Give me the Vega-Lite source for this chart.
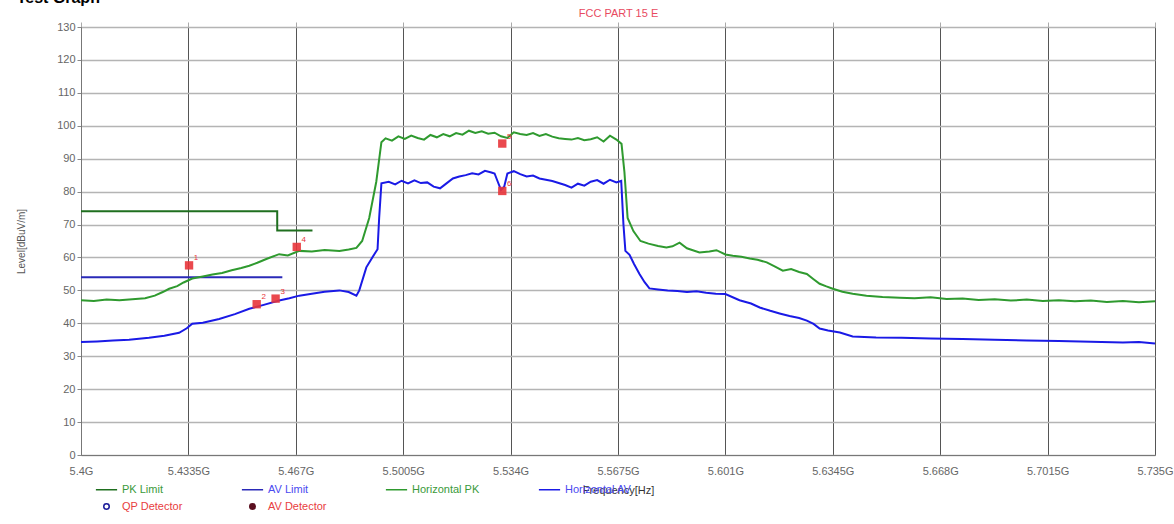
{
  "$schema": "https://vega.github.io/schema/vega-lite/v6.json",
  "width": 1174,
  "height": 524,
  "autosize": {"type": "fit", "contains": "padding"},
  "padding": {"left": 16, "right": 0, "top": -11, "bottom": 29},
  "background": "white",
  "title": {"text": "Test Graph", "anchor": "start", "frame": "bounds", "fontSize": 16, "fontWeight": "bold", "font": "Liberation Sans", "color": "#000000", "offset": 2},
  "config": {"view": {"stroke": "#7a7a7a", "strokeWidth": 1}, "font": "Liberation Sans"},
  "datasets": {
    "curves": [
      {"series": "PK Limit", "freq": 5.4, "level": 74},
      {"series": "PK Limit", "freq": 5.4612, "level": 74},
      {"series": "PK Limit", "freq": 5.46121, "level": 68.2},
      {"series": "PK Limit", "freq": 5.4722, "level": 68.2},
      {"series": "AV Limit", "freq": 5.4, "level": 54},
      {"series": "AV Limit", "freq": 5.4628, "level": 54},
      {"series": "Horizontal PK", "freq": 5.4, "level": 47.0},
      {"series": "Horizontal PK", "freq": 5.404, "level": 46.8},
      {"series": "Horizontal PK", "freq": 5.408, "level": 47.2},
      {"series": "Horizontal PK", "freq": 5.412, "level": 47.0},
      {"series": "Horizontal PK", "freq": 5.416, "level": 47.3},
      {"series": "Horizontal PK", "freq": 5.42, "level": 47.6},
      {"series": "Horizontal PK", "freq": 5.423, "level": 48.4},
      {"series": "Horizontal PK", "freq": 5.4255, "level": 49.5},
      {"series": "Horizontal PK", "freq": 5.4275, "level": 50.5},
      {"series": "Horizontal PK", "freq": 5.43, "level": 51.3},
      {"series": "Horizontal PK", "freq": 5.432, "level": 52.4},
      {"series": "Horizontal PK", "freq": 5.4347, "level": 53.6},
      {"series": "Horizontal PK", "freq": 5.438, "level": 54.2},
      {"series": "Horizontal PK", "freq": 5.441, "level": 54.8},
      {"series": "Horizontal PK", "freq": 5.444, "level": 55.3},
      {"series": "Horizontal PK", "freq": 5.447, "level": 56.1},
      {"series": "Horizontal PK", "freq": 5.45, "level": 56.8},
      {"series": "Horizontal PK", "freq": 5.4525, "level": 57.5},
      {"series": "Horizontal PK", "freq": 5.455, "level": 58.4},
      {"series": "Horizontal PK", "freq": 5.458, "level": 59.6},
      {"series": "Horizontal PK", "freq": 5.4618, "level": 61.0},
      {"series": "Horizontal PK", "freq": 5.4645, "level": 60.6},
      {"series": "Horizontal PK", "freq": 5.4681, "level": 62.0},
      {"series": "Horizontal PK", "freq": 5.472, "level": 61.8},
      {"series": "Horizontal PK", "freq": 5.476, "level": 62.3},
      {"series": "Horizontal PK", "freq": 5.4806, "level": 62.0},
      {"series": "Horizontal PK", "freq": 5.4835, "level": 62.4},
      {"series": "Horizontal PK", "freq": 5.4859, "level": 62.9},
      {"series": "Horizontal PK", "freq": 5.4877, "level": 65.0},
      {"series": "Horizontal PK", "freq": 5.4899, "level": 72.0},
      {"series": "Horizontal PK", "freq": 5.4921, "level": 83.0},
      {"series": "Horizontal PK", "freq": 5.4937, "level": 95.0},
      {"series": "Horizontal PK", "freq": 5.495, "level": 96.2},
      {"series": "Horizontal PK", "freq": 5.497, "level": 95.5},
      {"series": "Horizontal PK", "freq": 5.499, "level": 96.8},
      {"series": "Horizontal PK", "freq": 5.501, "level": 96.0},
      {"series": "Horizontal PK", "freq": 5.503, "level": 97.0},
      {"series": "Horizontal PK", "freq": 5.505, "level": 96.3},
      {"series": "Horizontal PK", "freq": 5.507, "level": 95.8},
      {"series": "Horizontal PK", "freq": 5.509, "level": 97.2},
      {"series": "Horizontal PK", "freq": 5.511, "level": 96.5},
      {"series": "Horizontal PK", "freq": 5.513, "level": 97.5},
      {"series": "Horizontal PK", "freq": 5.515, "level": 96.8},
      {"series": "Horizontal PK", "freq": 5.517, "level": 97.8},
      {"series": "Horizontal PK", "freq": 5.519, "level": 97.3},
      {"series": "Horizontal PK", "freq": 5.521, "level": 98.5},
      {"series": "Horizontal PK", "freq": 5.523, "level": 97.8},
      {"series": "Horizontal PK", "freq": 5.525, "level": 98.3},
      {"series": "Horizontal PK", "freq": 5.527, "level": 97.6},
      {"series": "Horizontal PK", "freq": 5.529, "level": 97.9},
      {"series": "Horizontal PK", "freq": 5.531, "level": 96.8},
      {"series": "Horizontal PK", "freq": 5.533, "level": 96.3},
      {"series": "Horizontal PK", "freq": 5.535, "level": 98.0},
      {"series": "Horizontal PK", "freq": 5.537, "level": 97.5},
      {"series": "Horizontal PK", "freq": 5.539, "level": 97.2},
      {"series": "Horizontal PK", "freq": 5.541, "level": 97.8},
      {"series": "Horizontal PK", "freq": 5.543, "level": 96.9},
      {"series": "Horizontal PK", "freq": 5.545, "level": 97.5},
      {"series": "Horizontal PK", "freq": 5.547, "level": 96.7},
      {"series": "Horizontal PK", "freq": 5.549, "level": 96.2},
      {"series": "Horizontal PK", "freq": 5.551, "level": 96.0},
      {"series": "Horizontal PK", "freq": 5.553, "level": 95.8},
      {"series": "Horizontal PK", "freq": 5.555, "level": 96.3},
      {"series": "Horizontal PK", "freq": 5.557, "level": 95.6},
      {"series": "Horizontal PK", "freq": 5.559, "level": 95.9},
      {"series": "Horizontal PK", "freq": 5.561, "level": 96.5},
      {"series": "Horizontal PK", "freq": 5.563, "level": 95.2},
      {"series": "Horizontal PK", "freq": 5.565, "level": 97.0},
      {"series": "Horizontal PK", "freq": 5.567, "level": 95.8},
      {"series": "Horizontal PK", "freq": 5.5686, "level": 94.5},
      {"series": "Horizontal PK", "freq": 5.5695, "level": 86.0},
      {"series": "Horizontal PK", "freq": 5.5705, "level": 72.0},
      {"series": "Horizontal PK", "freq": 5.5723, "level": 68.0},
      {"series": "Horizontal PK", "freq": 5.5745, "level": 65.0},
      {"series": "Horizontal PK", "freq": 5.577, "level": 64.2},
      {"series": "Horizontal PK", "freq": 5.58, "level": 63.5},
      {"series": "Horizontal PK", "freq": 5.5826, "level": 63.0},
      {"series": "Horizontal PK", "freq": 5.5845, "level": 63.4},
      {"series": "Horizontal PK", "freq": 5.5867, "level": 64.5},
      {"series": "Horizontal PK", "freq": 5.589, "level": 62.8},
      {"series": "Horizontal PK", "freq": 5.5929, "level": 61.5},
      {"series": "Horizontal PK", "freq": 5.596, "level": 61.8},
      {"series": "Horizontal PK", "freq": 5.5982, "level": 62.2},
      {"series": "Horizontal PK", "freq": 5.601, "level": 60.9},
      {"series": "Horizontal PK", "freq": 5.6033, "level": 60.5},
      {"series": "Horizontal PK", "freq": 5.606, "level": 60.2},
      {"series": "Horizontal PK", "freq": 5.6086, "level": 59.7},
      {"series": "Horizontal PK", "freq": 5.611, "level": 59.3},
      {"series": "Horizontal PK", "freq": 5.6139, "level": 58.5},
      {"series": "Horizontal PK", "freq": 5.6165, "level": 57.2},
      {"series": "Horizontal PK", "freq": 5.6189, "level": 56.0},
      {"series": "Horizontal PK", "freq": 5.6215, "level": 56.5},
      {"series": "Horizontal PK", "freq": 5.624, "level": 55.6},
      {"series": "Horizontal PK", "freq": 5.6264, "level": 55.0},
      {"series": "Horizontal PK", "freq": 5.6285, "level": 53.4},
      {"series": "Horizontal PK", "freq": 5.6304, "level": 52.0},
      {"series": "Horizontal PK", "freq": 5.6325, "level": 51.2},
      {"series": "Horizontal PK", "freq": 5.6345, "level": 50.5},
      {"series": "Horizontal PK", "freq": 5.6375, "level": 49.6},
      {"series": "Horizontal PK", "freq": 5.6407, "level": 49.0},
      {"series": "Horizontal PK", "freq": 5.645, "level": 48.4},
      {"series": "Horizontal PK", "freq": 5.65, "level": 48.0},
      {"series": "Horizontal PK", "freq": 5.6554, "level": 47.8},
      {"series": "Horizontal PK", "freq": 5.66, "level": 47.6},
      {"series": "Horizontal PK", "freq": 5.665, "level": 47.9},
      {"series": "Horizontal PK", "freq": 5.67, "level": 47.4},
      {"series": "Horizontal PK", "freq": 5.675, "level": 47.5},
      {"series": "Horizontal PK", "freq": 5.68, "level": 47.1},
      {"series": "Horizontal PK", "freq": 5.685, "level": 47.3},
      {"series": "Horizontal PK", "freq": 5.69, "level": 46.9},
      {"series": "Horizontal PK", "freq": 5.695, "level": 47.2},
      {"series": "Horizontal PK", "freq": 5.7, "level": 46.8},
      {"series": "Horizontal PK", "freq": 5.705, "level": 47.0},
      {"series": "Horizontal PK", "freq": 5.71, "level": 46.7},
      {"series": "Horizontal PK", "freq": 5.715, "level": 46.9},
      {"series": "Horizontal PK", "freq": 5.72, "level": 46.5},
      {"series": "Horizontal PK", "freq": 5.725, "level": 46.8},
      {"series": "Horizontal PK", "freq": 5.73, "level": 46.4},
      {"series": "Horizontal PK", "freq": 5.735, "level": 46.7},
      {"series": "Horizontal AV", "freq": 5.4, "level": 34.3},
      {"series": "Horizontal AV", "freq": 5.405, "level": 34.5},
      {"series": "Horizontal AV", "freq": 5.41, "level": 34.8},
      {"series": "Horizontal AV", "freq": 5.415, "level": 35.0},
      {"series": "Horizontal AV", "freq": 5.4212, "level": 35.6},
      {"series": "Horizontal AV", "freq": 5.426, "level": 36.2},
      {"series": "Horizontal AV", "freq": 5.4306, "level": 37.1},
      {"series": "Horizontal AV", "freq": 5.433, "level": 38.5},
      {"series": "Horizontal AV", "freq": 5.4347, "level": 39.9},
      {"series": "Horizontal AV", "freq": 5.438, "level": 40.2},
      {"series": "Horizontal AV", "freq": 5.4431, "level": 41.3},
      {"series": "Horizontal AV", "freq": 5.448, "level": 42.8},
      {"series": "Horizontal AV", "freq": 5.4525, "level": 44.4},
      {"series": "Horizontal AV", "freq": 5.457, "level": 45.6},
      {"series": "Horizontal AV", "freq": 5.4618, "level": 46.9},
      {"series": "Horizontal AV", "freq": 5.465, "level": 47.6},
      {"series": "Horizontal AV", "freq": 5.4681, "level": 48.4},
      {"series": "Horizontal AV", "freq": 5.472, "level": 49.0},
      {"series": "Horizontal AV", "freq": 5.476, "level": 49.6},
      {"series": "Horizontal AV", "freq": 5.4806, "level": 50.0},
      {"series": "Horizontal AV", "freq": 5.4835, "level": 49.5},
      {"series": "Horizontal AV", "freq": 5.4859, "level": 48.4},
      {"series": "Horizontal AV", "freq": 5.4868, "level": 50.0},
      {"series": "Horizontal AV", "freq": 5.489, "level": 57.0},
      {"series": "Horizontal AV", "freq": 5.4915, "level": 61.0},
      {"series": "Horizontal AV", "freq": 5.4925, "level": 62.5},
      {"series": "Horizontal AV", "freq": 5.493, "level": 72.0},
      {"series": "Horizontal AV", "freq": 5.4937, "level": 82.5},
      {"series": "Horizontal AV", "freq": 5.496, "level": 83.0},
      {"series": "Horizontal AV", "freq": 5.498, "level": 82.2},
      {"series": "Horizontal AV", "freq": 5.5, "level": 83.3},
      {"series": "Horizontal AV", "freq": 5.502, "level": 82.5},
      {"series": "Horizontal AV", "freq": 5.504, "level": 83.4},
      {"series": "Horizontal AV", "freq": 5.506, "level": 82.6},
      {"series": "Horizontal AV", "freq": 5.508, "level": 82.8},
      {"series": "Horizontal AV", "freq": 5.51, "level": 81.5},
      {"series": "Horizontal AV", "freq": 5.512, "level": 81.0},
      {"series": "Horizontal AV", "freq": 5.514, "level": 82.5},
      {"series": "Horizontal AV", "freq": 5.516, "level": 84.0},
      {"series": "Horizontal AV", "freq": 5.518, "level": 84.6},
      {"series": "Horizontal AV", "freq": 5.52, "level": 85.0},
      {"series": "Horizontal AV", "freq": 5.522, "level": 85.6},
      {"series": "Horizontal AV", "freq": 5.524, "level": 85.2},
      {"series": "Horizontal AV", "freq": 5.526, "level": 86.3},
      {"series": "Horizontal AV", "freq": 5.528, "level": 85.8},
      {"series": "Horizontal AV", "freq": 5.529, "level": 85.5},
      {"series": "Horizontal AV", "freq": 5.53, "level": 83.0},
      {"series": "Horizontal AV", "freq": 5.531, "level": 80.5},
      {"series": "Horizontal AV", "freq": 5.532, "level": 81.5},
      {"series": "Horizontal AV", "freq": 5.533, "level": 85.5},
      {"series": "Horizontal AV", "freq": 5.535, "level": 86.2},
      {"series": "Horizontal AV", "freq": 5.537, "level": 85.3},
      {"series": "Horizontal AV", "freq": 5.539, "level": 84.6},
      {"series": "Horizontal AV", "freq": 5.541, "level": 84.9},
      {"series": "Horizontal AV", "freq": 5.543, "level": 84.0},
      {"series": "Horizontal AV", "freq": 5.545, "level": 83.6},
      {"series": "Horizontal AV", "freq": 5.547, "level": 83.2},
      {"series": "Horizontal AV", "freq": 5.549, "level": 82.6},
      {"series": "Horizontal AV", "freq": 5.551, "level": 82.0},
      {"series": "Horizontal AV", "freq": 5.553, "level": 81.2},
      {"series": "Horizontal AV", "freq": 5.555, "level": 82.4},
      {"series": "Horizontal AV", "freq": 5.557, "level": 81.8},
      {"series": "Horizontal AV", "freq": 5.559, "level": 83.0},
      {"series": "Horizontal AV", "freq": 5.561, "level": 83.5},
      {"series": "Horizontal AV", "freq": 5.563, "level": 82.4},
      {"series": "Horizontal AV", "freq": 5.565, "level": 83.6},
      {"series": "Horizontal AV", "freq": 5.567, "level": 82.8},
      {"series": "Horizontal AV", "freq": 5.5685, "level": 83.3},
      {"series": "Horizontal AV", "freq": 5.5692, "level": 70.0},
      {"series": "Horizontal AV", "freq": 5.5698, "level": 62.0},
      {"series": "Horizontal AV", "freq": 5.5711, "level": 60.8},
      {"series": "Horizontal AV", "freq": 5.5725, "level": 58.0},
      {"series": "Horizontal AV", "freq": 5.5742, "level": 55.0},
      {"series": "Horizontal AV", "freq": 5.5758, "level": 52.5},
      {"series": "Horizontal AV", "freq": 5.5773, "level": 50.6},
      {"series": "Horizontal AV", "freq": 5.58, "level": 50.3},
      {"series": "Horizontal AV", "freq": 5.583, "level": 50.0},
      {"series": "Horizontal AV", "freq": 5.586, "level": 49.8},
      {"series": "Horizontal AV", "freq": 5.589, "level": 49.5},
      {"series": "Horizontal AV", "freq": 5.592, "level": 49.7},
      {"series": "Horizontal AV", "freq": 5.595, "level": 49.3},
      {"series": "Horizontal AV", "freq": 5.598, "level": 49.0},
      {"series": "Horizontal AV", "freq": 5.601, "level": 48.9},
      {"series": "Horizontal AV", "freq": 5.6054, "level": 47.0},
      {"series": "Horizontal AV", "freq": 5.609, "level": 46.0},
      {"series": "Horizontal AV", "freq": 5.6117, "level": 44.8},
      {"series": "Horizontal AV", "freq": 5.615, "level": 43.8},
      {"series": "Horizontal AV", "freq": 5.6179, "level": 43.0},
      {"series": "Horizontal AV", "freq": 5.621, "level": 42.2},
      {"series": "Horizontal AV", "freq": 5.624, "level": 41.6},
      {"series": "Horizontal AV", "freq": 5.6264, "level": 40.8},
      {"series": "Horizontal AV", "freq": 5.6285, "level": 39.8},
      {"series": "Horizontal AV", "freq": 5.6304, "level": 38.4},
      {"series": "Horizontal AV", "freq": 5.633, "level": 37.8},
      {"series": "Horizontal AV", "freq": 5.6367, "level": 37.2},
      {"series": "Horizontal AV", "freq": 5.6407, "level": 36.0},
      {"series": "Horizontal AV", "freq": 5.648, "level": 35.7},
      {"series": "Horizontal AV", "freq": 5.656, "level": 35.6},
      {"series": "Horizontal AV", "freq": 5.665, "level": 35.4},
      {"series": "Horizontal AV", "freq": 5.675, "level": 35.2},
      {"series": "Horizontal AV", "freq": 5.685, "level": 35.0},
      {"series": "Horizontal AV", "freq": 5.695, "level": 34.8},
      {"series": "Horizontal AV", "freq": 5.705, "level": 34.6},
      {"series": "Horizontal AV", "freq": 5.715, "level": 34.4},
      {"series": "Horizontal AV", "freq": 5.725, "level": 34.2},
      {"series": "Horizontal AV", "freq": 5.73, "level": 34.3},
      {"series": "Horizontal AV", "freq": 5.735, "level": 33.9}
    ],
    "markers": [
      {"freq": 5.4337, "level": 57.6, "label": "1"},
      {"freq": 5.4548, "level": 45.8, "label": "2"},
      {"freq": 5.4607, "level": 47.5, "label": "3"},
      {"freq": 5.4673, "level": 63.2, "label": "4"},
      {"freq": 5.5314, "level": 94.6, "label": "5"},
      {"freq": 5.5314, "level": 80.2, "label": "6"}
    ]
  },
  "layer": [
    {
      "data": {"name": "curves"},
      "mark": {"type": "line", "interpolate": "linear"},
      "encoding": {
        "x": {
          "field": "freq", "type": "quantitative",
          "scale": {"domain": [5.4, 5.735], "nice": false, "zero": false},
          "axis": {
            "values": [5.4, 5.4335, 5.467, 5.5005, 5.534, 5.5675, 5.601, 5.6345, 5.668, 5.7015, 5.735],
            "labelExpr": "datum.value + 'G'",
            "labelFlush": false, "labelOverlap": false,
            "labelColor": "#666666", "labelFontSize": 11, "labelPadding": 10,
            "tickSize": 0, "domainColor": "#777777",
            "grid": true, "gridColor": "#555555", "gridWidth": 1,
            "title": "Frequency[Hz]", "titleFontSize": 11, "titleFontWeight": "normal",
            "titleColor": "#333333", "titlePadding": 8
          }
        },
        "y": {
          "field": "level", "type": "quantitative",
          "scale": {"domain": [0, 130], "nice": false},
          "axis": {
            "values": [0, 10, 20, 30, 40, 50, 60, 70, 80, 90, 100, 110, 120, 130],
            "labelColor": "#666666", "labelFontSize": 11, "labelPadding": 2, "labelOverlap": false,
            "tickSize": 4, "tickColor": "#888888", "domainColor": "#777777",
            "grid": true, "gridColor": "#b4b4b4", "gridWidth": 1.5,
            "title": "Level[dBuV/m]", "titleFontSize": 10, "titleFontWeight": "normal",
            "titleColor": "#555555", "titlePadding": 30
          }
        },
        "color": {
          "field": "series", "type": "nominal",
          "scale": {
            "domain": ["PK Limit", "AV Limit", "Horizontal PK", "Horizontal AV", "QP Detector", "AV Detector"],
            "range": ["#1f6f1f", "#2a2ab8", "#2f9a2f", "#1a1ae6", "#1a1a99", "#5a0f1f"]
          },
          "legend": {
            "orient": "none", "legendX": 14, "legendY": 451,
            "direction": "horizontal", "columns": 4, "title": null,
            "columnPadding": 55, "rowPadding": 0,
            "labelFontSize": 11, "labelLimit": 200,
            "labelColor": {"expr": "datum.label == 'PK Limit' || datum.label == 'Horizontal PK' ? '#3a9a3a' : (datum.label == 'AV Limit' || datum.label == 'Horizontal AV' ? '#4a4af0' : '#e84040')"},
            "symbolType": {"expr": "datum.label == 'QP Detector' || datum.label == 'AV Detector' ? 'circle' : 'stroke'"},
            "symbolSize": {"expr": "datum.label == 'QP Detector' || datum.label == 'AV Detector' ? 30 : 450"},
            "symbolFillColor": {"expr": "datum.label == 'AV Detector' ? '#5a0f1f' : 'transparent'"},
            "symbolStrokeWidth": 1.5
          }
        },
        "strokeWidth": {
          "field": "series", "type": "nominal",
          "scale": {"domain": ["PK Limit", "AV Limit", "Horizontal PK", "Horizontal AV"], "range": [2, 2, 1.3, 1.3]},
          "legend": null
        }
      }
    },
    {
      "data": {"name": "markers"},
      "mark": {"type": "square", "size": 70, "color": "#e8353b", "opacity": 0.9},
      "encoding": {
        "x": {
          "field": "freq", "type": "quantitative",
          "axis": {
            "orient": "top",
            "values": [5.4, 5.4335, 5.467, 5.5005, 5.534, 5.5675, 5.601, 5.6345, 5.668, 5.7015, 5.735],
            "labels": false, "ticks": true, "tickSize": 5, "tickColor": "#aaaaaa",
            "domain": false, "grid": false,
            "title": "FCC PART 15 E", "titleColor": "#e84a5f", "titleFontSize": 11,
            "titleFontWeight": "normal", "titlePadding": 3
          }
        },
        "y": {
          "field": "level", "type": "quantitative",
          "axis": {
            "values": [0, 10, 20, 30, 40, 50, 60, 70, 80, 90, 100, 110, 120, 130],
            "labelColor": "#666666", "labelFontSize": 11, "labelPadding": 2, "labelOverlap": false,
            "tickSize": 4, "tickColor": "#888888", "domainColor": "#777777",
            "grid": true, "gridColor": "#b4b4b4", "gridWidth": 1.5,
            "title": "Level[dBuV/m]", "titleFontSize": 10, "titleFontWeight": "normal",
            "titleColor": "#555555", "titlePadding": 30
          }
        }
      }
    },
    {
      "data": {"name": "markers"},
      "mark": {"type": "text", "dx": 7, "dy": -7, "fontSize": 8, "color": "#e8353b"},
      "encoding": {
        "x": {"field": "freq", "type": "quantitative", "axis": null},
        "y": {
          "field": "level", "type": "quantitative",
          "axis": {
            "values": [0, 10, 20, 30, 40, 50, 60, 70, 80, 90, 100, 110, 120, 130],
            "labelColor": "#666666", "labelFontSize": 11, "labelPadding": 2, "labelOverlap": false,
            "tickSize": 4, "tickColor": "#888888", "domainColor": "#777777",
            "grid": true, "gridColor": "#b4b4b4", "gridWidth": 1.5,
            "title": "Level[dBuV/m]", "titleFontSize": 10, "titleFontWeight": "normal",
            "titleColor": "#555555", "titlePadding": 30
          }
        },
        "text": {"field": "label"}
      }
    }
  ],
  "resolve": {"axis": {"x": "independent"}}
}
